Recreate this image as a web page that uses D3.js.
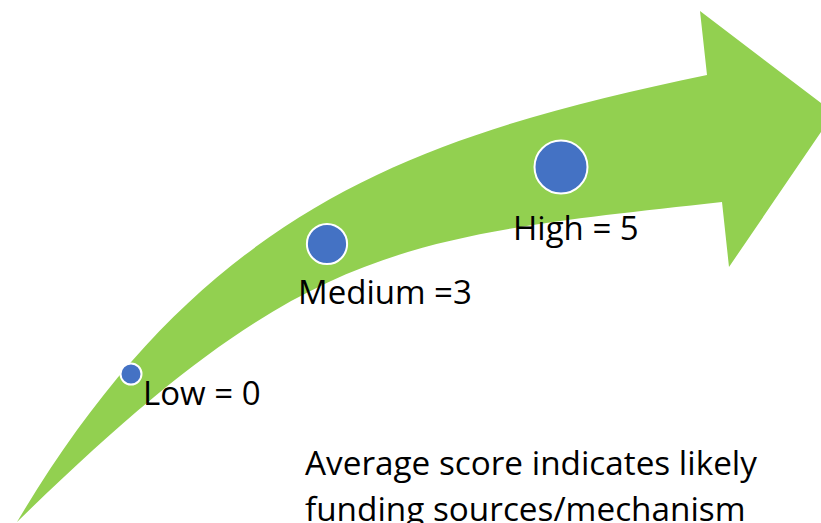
<!DOCTYPE html>
<html>
<head>
<meta charset="utf-8">
<script src="https://cdn.jsdelivr.net/npm/d3@7"></script>
<style>
  html, body { margin: 0; padding: 0; background: #fff; overflow: hidden; }
  text { font-family: "Open Sans", sans-serif; fill: #000; }
</style>
</head>
<body>
<svg id="chart_svg"></svg>
<script>
// Scores shown on the arrow
const levels = ["Low", "Medium", "High"];
const levelLabels = ["Low = 0", "Medium =3", "High = 5"];
const scores = [0, 3, 5];
// where each dot sits along the arrow (picture units)
const dotX = [131, 327, 561];
const dotY = [374, 244, 167];
const labelX = [143, 298, 513];
const labelY = [405, 304, 240];

// arrow outline: [start, control1, control2, end]
const upperEdge = [[17, 522], [206, 203], [422, 135], [707, 75]];
const arrowHead = [[700, 11], [834, 113], [729, 267], [722, 202]];
const lowerEdge = [[722, 202], [398, 238], [303, 242], [17, 522]];

const noteLines = ["Average score indicates likely", "funding sources/mechanism"];
const noteY = [475, 521];

const width = 821;
const height = 523;

const svg = d3.select("#chart_svg")
  .attr("width", width)
  .attr("height", height);

const x = d3.scaleLinear().domain([0, 821]).range([0, width]);
const y = d3.scaleLinear().domain([0, 523]).range([0, height]);
const r = d3.scaleLinear().domain([0, 5]).range([11.5, 27.5]);

// Build the curved arrow
const px = p => [x(p[0]), y(p[1])];
const path = d3.path();
path.moveTo(...px(upperEdge[0]));
path.bezierCurveTo(...px(upperEdge[1]), ...px(upperEdge[2]), ...px(upperEdge[3]));
arrowHead.forEach(p => path.lineTo(...px(p)));
path.bezierCurveTo(...px(lowerEdge[1]), ...px(lowerEdge[2]), ...px(lowerEdge[3]));
path.closePath();

svg.append("path")
  .attr("d", path.toString())
  .attr("fill", "#92D050");

// Dots
svg.append("g")
  .selectAll("circle")
  .data(levels)
  .enter().append("circle")
  .attr("cx", (d, i) => x(dotX[i]))
  .attr("cy", (d, i) => y(dotY[i]))
  .attr("r", (d, i) => r(scores[i]) - 1)
  .attr("fill", "#4472C4")
  .attr("stroke", "#fff")
  .attr("stroke-width", 2);

// Labels
svg.append("g")
  .selectAll("text")
  .data(levelLabels)
  .enter().append("text")
  .attr("x", (d, i) => x(labelX[i]))
  .attr("y", (d, i) => y(labelY[i]))
  .attr("font-size", 33)
  .text(d => d);

// Note at the bottom
svg.append("g")
  .selectAll("text")
  .data(noteLines)
  .enter().append("text")
  .attr("x", x(305))
  .attr("y", (d, i) => y(noteY[i]))
  .attr("font-size", 33.3)
  .text(d => d);
</script>
</body>
</html>
